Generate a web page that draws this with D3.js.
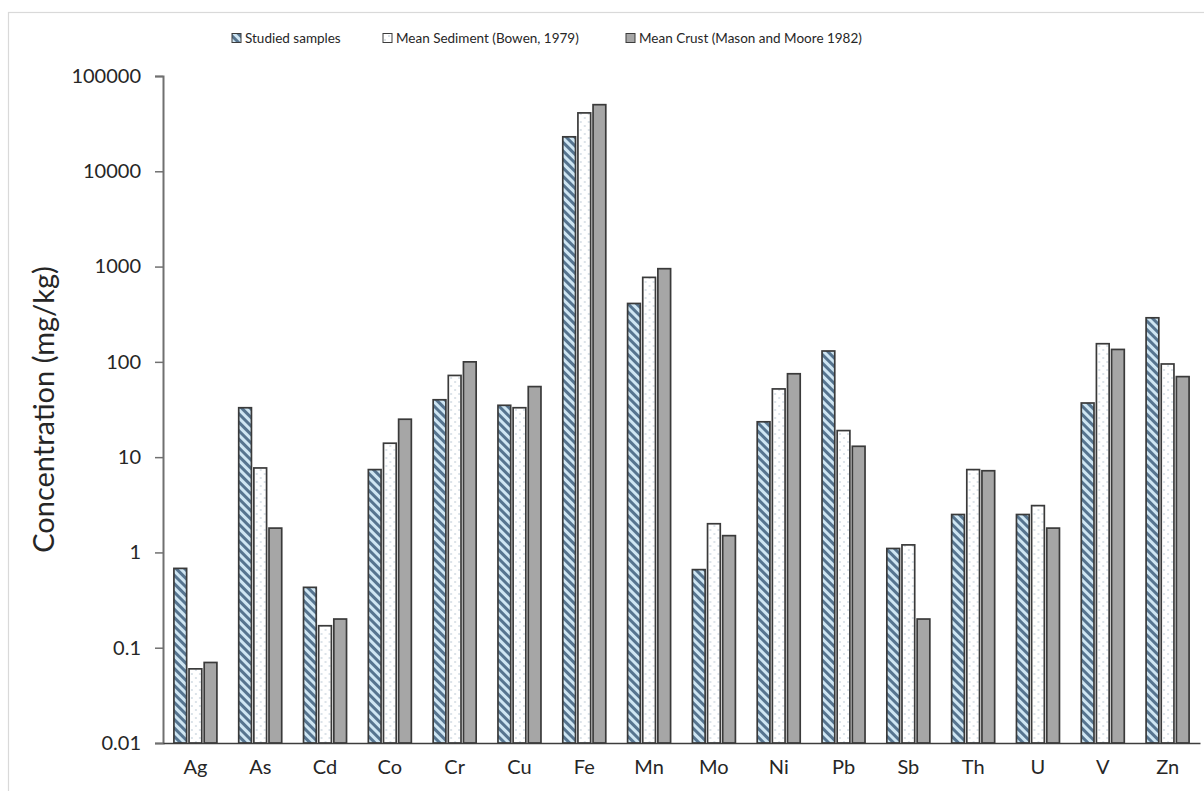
<!DOCTYPE html>
<html>
<head>
<meta charset="utf-8">
<script src="https://cdn.jsdelivr.net/npm/d3@7"></script>
<style>
  html, body { margin: 0; padding: 0; background: #ffffff; }
  svg { display: block; font-family: Lato, "Open Sans", sans-serif; }
</style>
</head>
<body>
<svg id="chart" width="1204" height="791"></svg>
<script>
// Trace element concentrations (mg/kg), log scale
const elements = ["Ag","As","Cd","Co","Cr","Cu","Fe","Mn","Mo","Ni","Pb","Sb","Th","U","V","Zn"];
const studied  = [0.68, 33, 0.43, 7.4, 40, 35, 23000, 410, 0.66, 23.5, 130, 1.1, 2.5, 2.5, 37, 290];
const sediment = [0.06, 7.7, 0.17, 14, 72, 33, 41000, 770, 2, 52, 19, 1.2, 7.4, 3.1, 155, 95];
const crust    = [0.07, 1.8, 0.2, 25, 100, 55, 50000, 950, 1.5, 75, 13, 0.2, 7.2, 1.8, 135, 70];
const seriesNames = ["Studied samples", "Mean Sediment (Bowen, 1979)", "Mean Crust (Mason and Moore 1982)"];
const tickValues = [0.01, 0.1, 1, 10, 100, 1000, 10000, 100000];
const tickLabels = ["0.01", "0.1", "1", "10", "100", "1000", "10000", "100000"];

const svg = d3.select("#chart");
const margin = { left: 163, right: 4, top: 76, bottom: 48 };
const W = 1204, H = 791;

// outer chart frame
svg.append("rect")
  .attr("x", 8.5).attr("y", 12.5)
  .attr("width", 1300).attr("height", 900)
  .attr("fill", "none").attr("stroke", "#d9d9d9").attr("stroke-width", 1.2);

// fill patterns
const defs = svg.append("defs");
const hatch = defs.append("pattern")
  .attr("id", "hatch").attr("patternUnits", "userSpaceOnUse")
  .attr("width", 6).attr("height", 6)
  .attr("patternTransform", "rotate(-45)");
hatch.append("rect").attr("width", 6).attr("height", 6).attr("fill", "#cfe6f3");
hatch.append("rect").attr("width", 3).attr("height", 6).attr("fill", "#56748f");

const dots = defs.append("pattern")
  .attr("id", "dots").attr("patternUnits", "userSpaceOnUse")
  .attr("width", 8).attr("height", 8);
dots.append("rect").attr("width", 8).attr("height", 8).attr("fill", "#ffffff");
dots.append("circle").attr("cx", 2).attr("cy", 2).attr("r", 0.7).attr("fill", "#9fb3c4");
dots.append("circle").attr("cx", 6).attr("cy", 6).attr("r", 0.7).attr("fill", "#9fb3c4");

const fills = ["url(#hatch)", "url(#dots)", "#a6a6a6"];
const seriesData = [studied, sediment, crust];

// scales
const x = d3.scaleBand().domain(elements).range([margin.left, W - margin.right]).paddingInner(0).paddingOuter(0);
const y = d3.scaleLog().domain([0.01, 100000]).range([H - margin.bottom, margin.top]);
const groupWidth = 43;
const xs = d3.scaleBand().domain(d3.range(3)).range([0, groupWidth]).paddingInner(0.16);

// bars
const groups = svg.append("g").selectAll("g")
  .data(elements)
  .join("g")
  .attr("transform", d => `translate(${x(d) + (x.bandwidth() - groupWidth) / 2},0)`);

groups.selectAll("rect")
  .data((d, i) => seriesData.map((s, k) => ({ k, v: s[i] })))
  .join("rect")
  .attr("x", d => xs(d.k))
  .attr("width", xs.bandwidth())
  .attr("y", d => y(d.v))
  .attr("height", d => y(0.01) - y(d.v))
  .attr("fill", d => fills[d.k])
  .attr("stroke", "#3a3a3a")
  .attr("stroke-width", 1.7);

// y axis
const yAxis = d3.axisLeft(y)
  .tickValues(tickValues)
  .tickFormat((d, i) => tickLabels[i])
  .tickSize(8).tickPadding(14);
const gy = svg.append("g").attr("transform", `translate(${margin.left},0)`).call(yAxis);
gy.select(".domain").attr("stroke", "#707070").attr("stroke-width", 2);
gy.selectAll(".tick line").attr("stroke", "#707070").attr("stroke-width", 1.5);
gy.selectAll(".tick text").attr("font-size", 20).attr("fill", "#262626").attr("font-family", "Lato, sans-serif");

// x axis
const xAxis = d3.axisBottom(x).tickSize(0).tickPadding(17);
const gx = svg.append("g").attr("transform", `translate(0,${H - margin.bottom})`).call(xAxis);
gx.select(".domain").attr("stroke", "#3d3d3d").attr("stroke-width", 1.5);
gx.selectAll(".tick text").attr("font-size", 20).attr("fill", "#262626").attr("font-family", "Lato, sans-serif");

// y axis title
svg.append("text")
  .attr("transform", `translate(54,${(margin.top + H - margin.bottom) / 2}) rotate(-90)`)
  .attr("text-anchor", "middle")
  .attr("font-size", 29)
  .attr("fill", "#262626")
  .text("Concentration (mg/kg)");

// legend
const legendX = [232, 383, 626];
const legend = svg.append("g");
seriesNames.forEach((name, k) => {
  const g = legend.append("g").attr("transform", `translate(${legendX[k]},38)`);
  g.append("rect").attr("x", 0).attr("y", -4.5).attr("width", 9).attr("height", 9)
    .attr("fill", fills[k]).attr("stroke", "#3d3d3d").attr("stroke-width", 1);
  g.append("text").attr("x", 13).attr("y", 0).attr("dy", "0.35em")
    .attr("font-size", 13.5).attr("fill", "#262626").text(name);
});
</script>
</body>
</html>
